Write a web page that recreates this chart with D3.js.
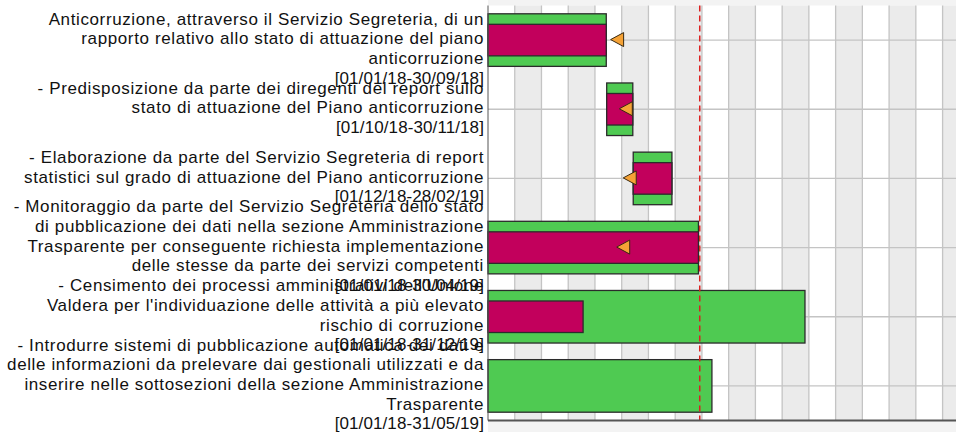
<!DOCTYPE html>
<html><head><meta charset="utf-8">
<script src="https://cdn.jsdelivr.net/npm/d3@7"></script>
<style>
html,body{margin:0;padding:0;background:#fff;}
svg{display:block;}
text{font-family:"Liberation Sans",Arial,sans-serif;}
</style></head>
<body>
<svg id="chart" width="956" height="432"></svg>
<script>
// ---------------- data ----------------
const taskLabels = [
  ["Anticorruzione, attraverso il Servizio Segreteria, di un",
   "rapporto relativo allo stato di attuazione del piano",
   "anticorruzione"],
  ["- Predisposizione da parte dei diregenti del report sullo",
   "stato di attuazione del Piano anticorruzione"],
  ["- Elaborazione da parte del Servizio Segreteria di report",
   "statistici sul grado di attuazione del Piano anticorruzione"],
  ["- Monitoraggio da parte del Servizio Segreteria dello stato",
   "di pubblicazione dei dati nella sezione Amministrazione",
   "Trasparente per conseguente richiesta implementazione",
   "delle stesse da parte dei servizi competenti"],
  ["- Censimento dei processi amministrativi dell'Unione",
   "Valdera per l'individuazione delle attività a più elevato",
   "rischio di corruzione"],
  ["- Introdurre sistemi di pubblicazione automatica dei dati e",
   "delle informazioni da prelevare dai gestionali utilizzati e da",
   "inserire nelle sottosezioni della sezione Amministrazione",
   "Trasparente"]
];
const hiddenLinesAbove = [1, 0, 0, 0, 0, 0];   // first label is cut off at the top
const startDates = ["2018-01-01","2018-10-01","2018-12-01","2018-01-01","2018-01-01","2018-01-01"];
const endDates   = ["2018-09-30","2018-11-30","2019-02-28","2019-04-30","2019-12-31","2019-05-31"];
const dateLabels = ["[01/01/18-30/09/18]","[01/10/18-30/11/18]","[01/12/18-28/02/19]",
                    "[01/01/18-30/04/19]","[01/01/18-31/12/19]","[01/01/18-31/05/19]"];
const progress   = [1, 1, 1, 1, 0.30, 0];
const markerDates = ["2018-10-10","2018-10-30","2018-11-08","2018-10-24", null, null];
const todayDate  = "2019-05-03";
const axisDomain = ["2018-01-01","2021-01-01"];

// ---------------- layout ----------------
const W = 956, H = 432;
const plotLeft = 488, plotTop = 5.5, plotBottom = 420.5;
const pxPerDay = 0.4348;
const parse = d3.utcParse("%Y-%m-%d");
const d0 = parse(axisDomain[0]), d1 = parse(axisDomain[1]);
const x = d3.scaleUtc().domain([d0, d1])
  .range([plotLeft, plotLeft + (d1 - d0) / 864e5 * pxPerDay]);
const y = d3.scaleBand().domain(d3.range(taskLabels.length)).range([plotTop, plotBottom]);

const svg = d3.select("#chart");
svg.append("rect").attr("x",0).attr("y",0).attr("width",W).attr("height",H).attr("fill","#ffffff");
svg.append("rect").attr("x",plotLeft).attr("y",0).attr("width",W-plotLeft).attr("height",H).attr("fill","#f3f3f3");
svg.append("rect").attr("x",plotLeft).attr("y",plotTop).attr("width",W-plotLeft).attr("height",plotBottom-plotTop).attr("fill","#ffffff");

// grid: alternating bands every ~61.5 days
const gridStep = 61.5 * 864e5;
const gridDates = d3.range(0, 19).map(i => new Date(+d0 + i * gridStep));
const g = svg.append("g");
g.selectAll("rect.band").data(gridDates.filter((d,i)=> i % 2 === 1)).join("rect")
  .attr("class","band")
  .attr("x", d => x(d)).attr("y", plotTop)
  .attr("width", d => x(new Date(+d + gridStep)) - x(d))
  .attr("height", plotBottom - plotTop)
  .attr("fill", "#ebebeb");
g.selectAll("line.vg").data(gridDates.slice(1)).join("line")
  .attr("class","vg")
  .attr("x1", d => x(d)).attr("x2", d => x(d))
  .attr("y1", plotTop).attr("y2", plotBottom)
  .attr("stroke", "#c4c4c4").attr("stroke-width", 1.3);
g.selectAll("line.hg").data(d3.range(taskLabels.length)).join("line")
  .attr("class","hg")
  .attr("x1", plotLeft).attr("x2", W)
  .attr("y1", i => y(i) + y.bandwidth()/2).attr("y2", i => y(i) + y.bandwidth()/2)
  .attr("stroke", "#c4c4c4").attr("stroke-width", 1.3);

// bars
const barTop = i => y(i) + y.bandwidth()*0.12;
const barH = y.bandwidth()*0.76;
const bars = svg.append("g");
const idx = d3.range(taskLabels.length);
bars.selectAll("rect.plan").data(idx).join("rect")
  .attr("x", i => x(parse(startDates[i])))
  .attr("y", i => barTop(i))
  .attr("width", i => x(parse(endDates[i])) - x(parse(startDates[i])))
  .attr("height", barH)
  .attr("fill", "#4fca52").attr("stroke", "#2b2b2b").attr("stroke-width", 1.3);
bars.selectAll("rect.done").data(idx.filter(i => progress[i] > 0)).join("rect")
  .attr("x", i => x(parse(startDates[i])))
  .attr("y", i => barTop(i) + barH*0.2)
  .attr("width", i => (x(parse(endDates[i])) - x(parse(startDates[i]))) * progress[i])
  .attr("height", barH*0.6)
  .attr("fill", "#c2005c").attr("stroke", "#2b2b2b").attr("stroke-width", 1.3);

// markers (left-pointing triangles)
bars.selectAll("path.mk").data(idx.filter(i => markerDates[i])).join("path")
  .attr("d", i => {
    const tx = x(parse(markerDates[i])), cy = y(i) + y.bandwidth()/2 - 0.5;
    return `M${tx},${cy} L${tx+13},${cy-7} L${tx+13},${cy+7} Z`;
  })
  .attr("fill", "#f5a236").attr("stroke", "#3a2a10").attr("stroke-width", 1);

// today line
svg.append("line")
  .attr("x1", x(parse(todayDate))).attr("x2", x(parse(todayDate)))
  .attr("y1", plotTop).attr("y2", plotBottom)
  .attr("stroke", "#dd1f1f").attr("stroke-width", 1.5).attr("stroke-dasharray", "6,4");

// axis borders
svg.append("line").attr("x1", plotLeft).attr("x2", plotLeft).attr("y1", plotTop).attr("y2", plotBottom)
  .attr("stroke", "#555").attr("stroke-width", 1);
svg.append("line").attr("x1", plotLeft).attr("x2", W).attr("y1", plotBottom).attr("y2", plotBottom)
  .attr("stroke", "#555").attr("stroke-width", 2);

// labels
const lineH = 19.7;
const lab = svg.append("g").attr("font-size", 17).attr("fill", "#111").attr("text-anchor", "end");
idx.forEach(i => {
  const lines = taskLabels[i].concat([dateLabels[i]]);
  const n = lines.length + hiddenLinesAbove[i];
  const cy = y(i) + y.bandwidth()/2 - 2;
  const first = cy - (n - 1) / 2 * lineH + hiddenLinesAbove[i] * lineH;
  lines.forEach((t, k) => {
    const isDate = k === lines.length - 1;
    lab.append("text").attr("x", 484).attr("y", first + k*lineH).attr("dy", "0.36em")
      .style("letter-spacing", isDate ? "0.1px" : "0.62px")
      .text(t);
  });
});
</script>
</body></html>
